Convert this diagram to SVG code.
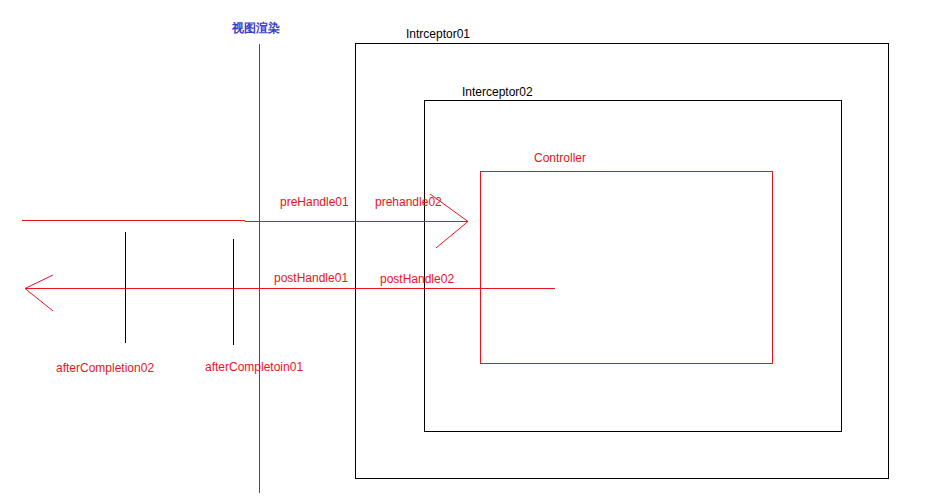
<svg xmlns="http://www.w3.org/2000/svg" width="951" height="502" viewBox="0 0 951 502">
<style>
.k{fill:none;stroke:#000;stroke-width:1}
.r{fill:none;stroke:#e8141e;stroke-width:1}
.t{font-family:"Liberation Sans",Arial,sans-serif;font-size:12px}
.rt{fill:#e8141e}
</style>
<rect width="951" height="502" fill="#fff"/>
<g id="view"><line x1="259.5" y1="44" x2="259.5" y2="493" stroke="#3b40c8"/><text x="232" y="32" class="t" font-weight="bold" fill="#3b40c8" font-family="'Noto Sans CJK SC',sans-serif" font-size="13">视图渲染</text></g>
<g id="i1"><rect x="355.5" y="43.5" width="533" height="435" class="k"/><text x="406" y="38" class="t">Intrceptor01</text></g>
<g id="i2"><rect x="424.5" y="100.5" width="417" height="331" class="k"/><text x="462" y="96" class="t">Interceptor02</text></g>
<g id="ctrl"><rect x="480.5" y="171.5" width="292" height="192" class="r"/><text x="534" y="162" class="t rt">Controller</text></g>
<g id="connectors">
<polyline points="22,220.5 245,220.5 245,221.5 468,221.5" class="r"/>
<polyline points="430,194 468,221.5 436,248" class="r"/>
<line x1="25" y1="288.5" x2="555" y2="288.5" class="r"/>
<polyline points="53,275 25,288.5 53,311" class="r"/>
<line x1="125.5" y1="232" x2="125.5" y2="343" class="k"/>
<line x1="233.5" y1="239" x2="233.5" y2="345" class="k"/>
</g>
<g id="labels" class="t rt">
<text x="280" y="206">preHandle01</text>
<text x="375" y="206">prehandle02</text>
<text x="274" y="282">postHandle01</text>
<text x="380" y="283">postHandle02</text>
<text x="56" y="372">afterCompletion02</text>
<text x="205" y="371">afterCompletoin01</text>
</g>
</svg>
